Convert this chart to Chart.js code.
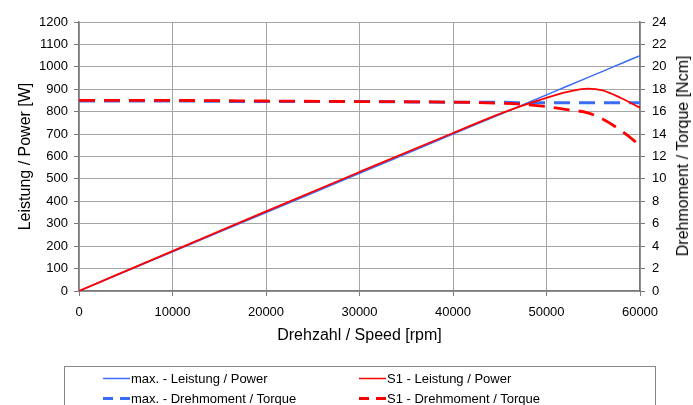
<!DOCTYPE html>
<html>
<head>
<meta charset="utf-8">
<script src="https://cdn.jsdelivr.net/npm/chart.js@4.4.1/dist/chart.umd.min.js"></script>
<style>
  html,body{margin:0;padding:0;background:#fff;}
  #wrap{position:relative;width:693px;height:405px;overflow:hidden;font-family:"Liberation Sans",Arial,sans-serif;}
  #c{position:absolute;left:0;top:0;}
  #rtitle{position:absolute;left:683px;top:156px;transform:translate(-50%,-50%) rotate(-90deg);white-space:nowrap;font-size:16px;color:#000;}
  #legend{position:absolute;left:64px;top:366px;width:592px;height:60px;border:1px solid #888;box-sizing:border-box;}
  .li{position:absolute;font-size:13px;color:#000;white-space:nowrap;line-height:15px;}
  .li svg{position:absolute;left:0;top:0;}
  .li span{position:absolute;left:29px;top:0;}
</style>
</head>
<body>
<div id="wrap">
  <canvas id="c" width="693" height="405"></canvas>
  <div id="rtitle">Drehmoment / Torque [Ncm]</div>
  <div id="legend"></div>
</div>
<script>
// ---- data ----
const speed        = [0, 10000, 20000, 30000, 40000, 45000, 47500, 50000, 52000, 54400, 56000, 58000, 60000];
const maxPower     = [0, 175, 350, 525, 700, 787, 831, 875, 910, 952, 980, 1015, 1050];
const s1Power      = [0, 178, 355, 531, 705, 790, 828, 862, 886, 903, 895, 860, 818];
const maxTorque    = [16.95, 16.95, 16.9, 16.9, 16.85, 16.85, 16.8, 16.8, 16.8, 16.8, 16.8, 16.8, 16.8];
const s1Torque     = [17.0, 17.0, 16.95, 16.9, 16.85, 16.75, 16.65, 16.45, 16.2, 15.9, 15.35, 14.3, 13.0];
const xTicks       = [0, 10000, 20000, 30000, 40000, 50000, 60000];
const seriesNames  = ["max. - Leistung / Power", "S1 - Leistung / Power", "max. - Drehmoment / Torque", "S1 - Drehmoment / Torque"];
const xTitle = "Drehzahl / Speed [rpm]";
const yTitle = "Leistung / Power [W]";

const BLUE = "#3a6cf5", RED = "#ff0000";
const pts = (arr) => speed.map((s, i) => ({x: s, y: arr[i]}));

const gridColor = "#a6a6a6", axisColor = "#7a7a7a";
const FONT = "'Liberation Sans', Arial, sans-serif";
const plain = (v) => String(v);

new Chart(document.getElementById("c"), {
  type: "line",
  data: {
    datasets: [
      {label: seriesNames[0], data: pts(maxPower), borderColor: BLUE, borderWidth: 1.5, yAxisID: "y", cubicInterpolationMode: "monotone", order: 4},
      {label: seriesNames[2], data: pts(maxTorque), borderColor: BLUE, borderWidth: 3, borderDash: [16, 9], yAxisID: "y2", cubicInterpolationMode: "monotone", order: 3},
      {label: seriesNames[1], data: pts(s1Power), borderColor: RED, borderWidth: 1.8, yAxisID: "y", cubicInterpolationMode: "monotone", order: 2},
      {label: seriesNames[3], data: pts(s1Torque), borderColor: RED, borderWidth: 2.8, borderDash: [16, 9], yAxisID: "y2", cubicInterpolationMode: "monotone", order: 1}
    ]
  },
  options: {
    responsive: false,
    animation: false,
    devicePixelRatio: 1,
    layout: {padding: {top: 22, bottom: 60, left: 0, right: 0}},
    elements: {point: {radius: 0}, line: {fill: false}},
    plugins: {legend: {display: false}, tooltip: {enabled: false}},
    scales: {
      x: {
        type: "linear", min: 0, max: 60000,
        afterBuildTicks: (s) => { s.ticks = xTicks.map(v => ({value: v})); },
        afterFit: (s) => { s.height = 54; },
        grid: {color: gridColor, tickColor: axisColor, tickLength: 5, lineWidth: 1},
        border: {color: axisColor, width: 1.5},
        ticks: {color: "#000", font: {family: FONT, size: 13}, padding: 9, maxRotation: 0, callback: plain},
        title: {display: true, text: xTitle, color: "#000", font: {family: FONT, size: 16}, padding: {top: 0, bottom: 0}}
      },
      y: {
        type: "linear", position: "left", min: 0, max: 1200,
        afterFit: (s) => { s.width = 79; },
        grid: {color: gridColor, tickColor: axisColor, tickLength: 5, lineWidth: 1},
        border: {color: axisColor, width: 1.5},
        ticks: {stepSize: 100, color: "#000", font: {family: FONT, size: 13}, padding: 6, callback: plain},
        title: {display: true, text: yTitle, color: "#000", font: {family: FONT, size: 16}, padding: {top: 16, bottom: 0}}
      },
      y2: {
        type: "linear", position: "right", min: 0, max: 24,
        afterFit: (s) => { s.width = 53; },
        grid: {drawOnChartArea: false, tickColor: axisColor, tickLength: 5},
        border: {color: axisColor, width: 1.5},
        ticks: {stepSize: 2, color: "#000", font: {family: FONT, size: 13}, padding: 7, callback: plain}
      }
    }
  }
});

// HTML legend (2 columns, row-major)
const legendItems = [
  {name: seriesNames[0], color: BLUE, dash: null, col: 0, row: 0},
  {name: seriesNames[1], color: RED, dash: null, col: 1, row: 0},
  {name: seriesNames[2], color: BLUE, dash: "10,7", col: 0, row: 1},
  {name: seriesNames[3], color: RED, dash: "10,7", col: 1, row: 1}
];
const lg = document.getElementById("legend");
legendItems.forEach(it => {
  const d = document.createElement("div");
  d.className = "li";
  d.style.left = (it.col === 0 ? 37 : 293) + "px";
  d.style.top = (it.row === 0 ? 4 : 24) + "px";
  const w = it.dash ? 3 : 1.5;
  d.innerHTML = `<svg width="28" height="15"><line x1="1" y1="7.5" x2="28" y2="7.5" stroke="${it.color}" stroke-width="${w}" ${it.dash ? `stroke-dasharray="${it.dash}"` : ""}/></svg><span>${it.name}</span>`;
  lg.appendChild(d);
});
</script>
</body>
</html>
